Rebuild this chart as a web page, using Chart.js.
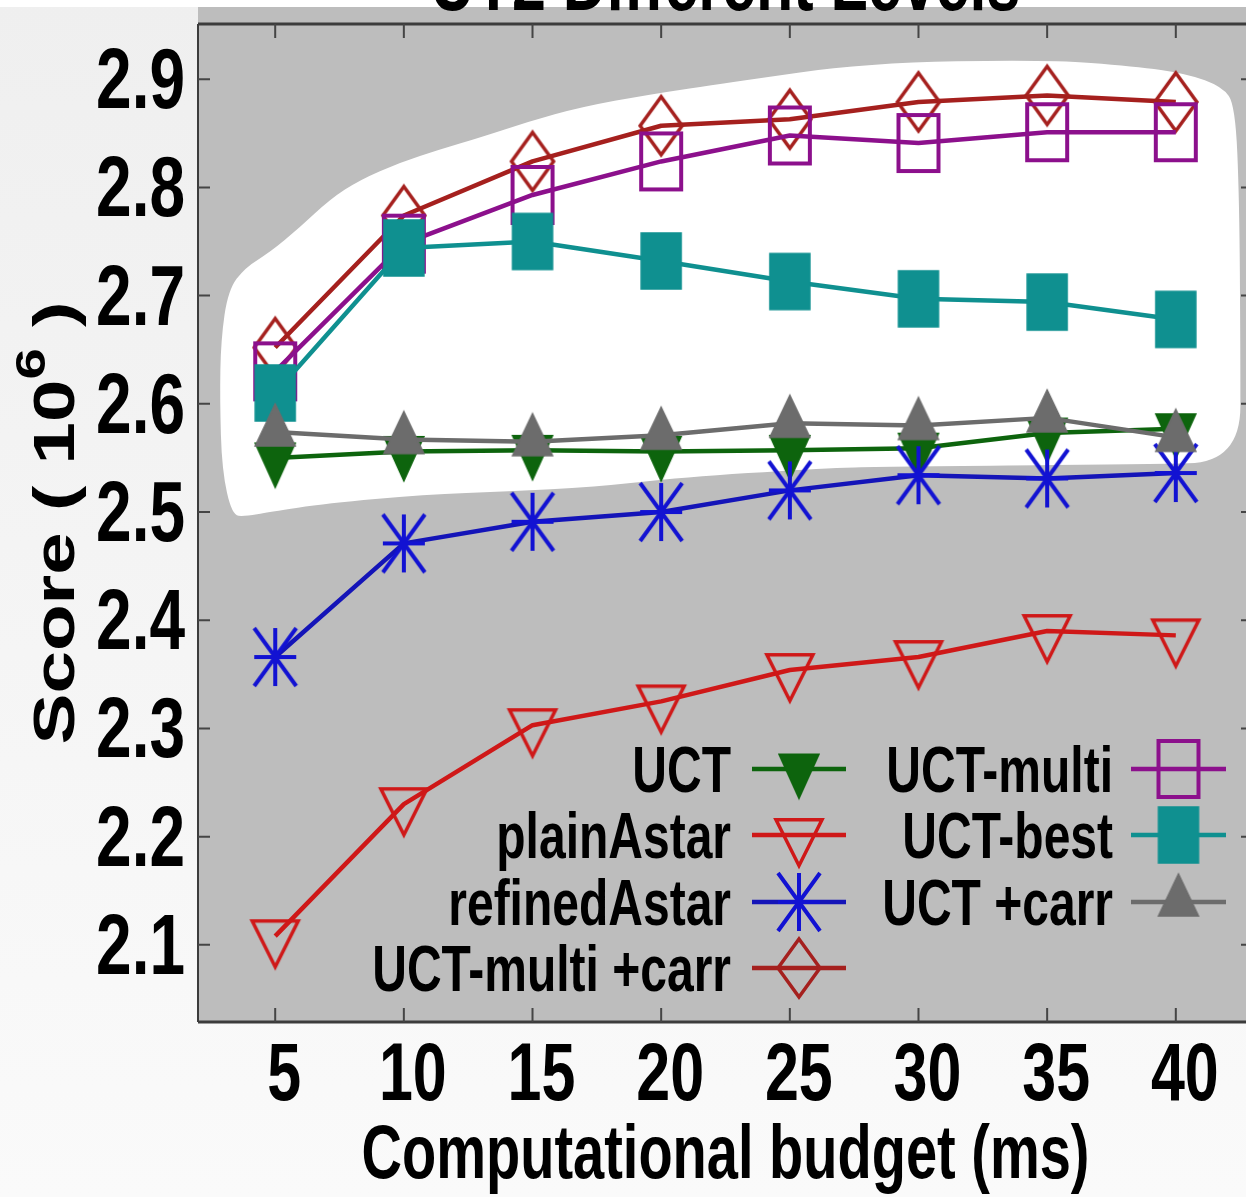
<!DOCTYPE html>
<html>
<head>
<meta charset="utf-8">
<title>Score vs computational budget</title>
<script src="https://cdn.jsdelivr.net/npm/chart.js@4.4.1/dist/chart.umd.min.js"></script>
<style>
  html, body { margin: 0; padding: 0; background: #f2f2f2; overflow: hidden; }
  #wrap { width: 1256px; height: 1197px; }
</style>
</head>
<body>
<div id="wrap"><canvas id="chartScore" width="1256" height="1197"></canvas></div>
<script>
// --- datos (score en millones) ---
const budgets = [5, 10, 15, 20, 25, 30, 35, 40];
const uct = [2.550, 2.556, 2.557, 2.556, 2.557, 2.559, 2.573, 2.577];
const plainAstar = [2.108, 2.230, 2.303, 2.325, 2.354, 2.366, 2.390, 2.386];
const refinedAstar = [2.366, 2.471, 2.491, 2.500, 2.520, 2.534, 2.531, 2.536];
const uctMultiCarr = [2.652, 2.774, 2.824, 2.857, 2.863, 2.879, 2.885, 2.879];
const uctMulti = [2.630, 2.748, 2.793, 2.824, 2.848, 2.841, 2.851, 2.851];
const uctBest = [2.610, 2.744, 2.750, 2.732, 2.713, 2.697, 2.694, 2.678];
const uctCarr = [2.574, 2.567, 2.565, 2.571, 2.582, 2.580, 2.587, 2.569];

const xTicks = [5, 10, 15, 20, 25, 30, 35, 40];
const yTicks = [2.1, 2.2, 2.3, 2.4, 2.5, 2.6, 2.7, 2.8, 2.9];
const xRange = [2, 43];
const yRange = [2.0287, 2.951];

const chartTitle = 'UT2 Different Levels';
const xTitle = 'Computational budget (ms)';
const yTitleParts = ['Score ( 10', '6', ' )'];

// contorno del resaltado blanco (en unidades de los ejes)
const blobX = [3.32, 2.93, 2.85, 2.89, 3.17, 3.83, 4.80, 5.96, 7.13, 8.29, 9.85, 11.40, 12.95, 14.89,
  16.84, 19.55, 22.66, 27.98, 35.01, 38.39, 40.45, 41.81, 42.31, 42.47, 42.51, 42.51, 38.47, 28.41,
  25.88, 20.87, 17.34, 14.08, 10.78, 7.01, 4.76, 3.83];
const blobY = [2.497, 2.539, 2.604, 2.659, 2.705, 2.726, 2.740, 2.763, 2.789, 2.807, 2.823, 2.835, 2.846, 2.861,
  2.874, 2.886, 2.897, 2.915, 2.918, 2.912, 2.905, 2.893, 2.876, 2.788, 2.650, 2.546, 2.544, 2.542,
  2.540, 2.532, 2.523, 2.519, 2.516, 2.508, 2.500, 2.496];

// --- estilos ---
const FONT = "'Liberation Sans', Arial, Helvetica, sans-serif";
const VS = 1.34; // la figura original esta estirada en vertical

function makeMarker(shape, color, w, h, lw, filled) {
    const pad = Math.ceil(lw) + 2;
    const cw = Math.ceil(w + 2 * pad);
    const ch = Math.ceil((shape.startsWith('tri') ? h * 4 / 3 : h) + 2 * pad);
    const c = document.createElement('canvas');
    c.width = cw;
    c.height = ch;
    const g = c.getContext('2d');
    g.translate(cw / 2, ch / 2);
    g.strokeStyle = color;
    g.fillStyle = color;
    g.lineWidth = lw;
    g.beginPath();
    if (shape === 'triDown') {
        g.moveTo(-w / 2, -h / 3); g.lineTo(w / 2, -h / 3); g.lineTo(0, 2 * h / 3); g.closePath();
    } else if (shape === 'triUp') {
        g.moveTo(0, -2 * h / 3); g.lineTo(w / 2, h / 3); g.lineTo(-w / 2, h / 3); g.closePath();
    } else if (shape === 'square') {
        g.rect(-w / 2, -h / 2, w, h);
    } else if (shape === 'diamond') {
        g.moveTo(0, -h / 2); g.lineTo(w / 2, 0); g.lineTo(0, h / 2); g.lineTo(-w / 2, 0); g.closePath();
    } else if (shape === 'star') {
        g.moveTo(0, -h / 2); g.lineTo(0, h / 2);
        g.moveTo(-w / 2, 0); g.lineTo(w / 2, 0);
        g.moveTo(-w / 2, -h / 2); g.lineTo(w / 2, h / 2);
        g.moveTo(w / 2, -h / 2); g.lineTo(-w / 2, h / 2);
    }
    if (filled) { g.fill(); g.lineWidth = 1.5; g.stroke(); } else { g.stroke(); }
    return c;
}

const seriesStyle = {
    'UCT': { color: '#0d640d', marker: makeMarker('triDown', '#0d640d', 40, 44, 1, true) },
    'plainAstar': { color: '#cf1818', marker: makeMarker('triDown', '#cf1818', 46, 46, 3.5, false) },
    'refinedAstar': { color: '#1414b8', marker: makeMarker('star', '#1212d2', 42, 58, 4, false) },
    'UCT-multi +carr': { color: '#a5201e', marker: makeMarker('diamond', '#a5201e', 42, 58, 3.5, false) },
    'UCT-multi': { color: '#8c108c', marker: makeMarker('square', '#8c108c', 40, 56, 4, false) },
    'UCT-best': { color: '#0f9090', marker: makeMarker('square', '#0f9090', 40, 56, 1, true) },
    'UCT +carr': { color: '#6c6c6c', marker: makeMarker('triUp', '#6c6c6c', 40, 42, 1, true) },
};

const seriesList = [
    ['UCT', uct],
    ['plainAstar', plainAstar],
    ['refinedAstar', refinedAstar],
    ['UCT-multi +carr', uctMultiCarr],
    ['UCT-multi', uctMulti],
    ['UCT-best', uctBest],
    ['UCT +carr', uctCarr],
];

// posiciones de la leyenda (estilo gnuplot, dos columnas)
const legendCols = [{ textRight: 731, x1: 752, x2: 846 }, { textRight: 1113, x1: 1131, x2: 1226 }];
const legendRows = [769, 835, 902, 968];
const legendSlots = [[0, 0], [0, 1], [0, 2], [0, 3], [1, 0], [1, 1], [1, 2]];

function drawStretched(ctx, text, x, y, size, align, vs) {
    ctx.save();
    ctx.font = 'bold ' + size + 'px ' + FONT;
    ctx.textAlign = align;
    ctx.textBaseline = 'alphabetic';
    ctx.fillStyle = '#000';
    ctx.translate(x, y);
    ctx.scale(1, vs);
    ctx.fillText(text, 0, 0);
    ctx.restore();
}

const paperPlugin = {
    id: 'paper',
    beforeDraw(chart) {
        const { ctx, chartArea: a, width, height } = chart;
        ctx.save();
        const g = ctx.createLinearGradient(0, 0, 0, height);
        g.addColorStop(0, '#efefef');
        g.addColorStop(1, '#fafafa');
        ctx.fillStyle = g;
        ctx.fillRect(0, 0, width, height);
        ctx.fillStyle = '#ffffff';
        ctx.fillRect(0, 0, width, 7);
        ctx.fillStyle = '#bdbdbd';
        ctx.fillRect(a.left, 7, width - a.left, a.bottom - 7);
        ctx.restore();
        // titulo casi cortado por el borde superior
        drawStretched(ctx, chartTitle, (a.left + a.right) / 2, 10, 61, 'center', VS);
    },
    beforeDatasetsDraw(chart) {
        const { ctx, scales: { x, y } } = chart;
        const pts = blobX.map((v, i) => [x.getPixelForValue(v), y.getPixelForValue(blobY[i])]);
        const n = pts.length;
        const mid = (p, q) => [(p[0] + q[0]) / 2, (p[1] + q[1]) / 2];
        ctx.save();
        ctx.beginPath();
        const m0 = mid(pts[n - 1], pts[0]);
        ctx.moveTo(m0[0], m0[1]);
        for (let i = 0; i < n; i++) {
            const m = mid(pts[i], pts[(i + 1) % n]);
            ctx.quadraticCurveTo(pts[i][0], pts[i][1], m[0], m[1]);
        }
        ctx.closePath();
        ctx.fillStyle = '#ffffff';
        ctx.fill();
        ctx.restore();
    },
};

const legendPlugin = {
    id: 'gnuLegend',
    afterDatasetsDraw(chart) {
        const ctx = chart.ctx;
        seriesList.forEach(([label], i) => {
            const [col, row] = legendSlots[i];
            const c = legendCols[col];
            const yy = legendRows[row];
            const st = seriesStyle[label];
            drawStretched(ctx, label, c.textRight, yy + 23, 48, 'right', VS);
            ctx.save();
            ctx.strokeStyle = st.color;
            ctx.lineWidth = 4.5;
            ctx.beginPath();
            ctx.moveTo(c.x1, yy);
            ctx.lineTo(c.x2, yy);
            ctx.stroke();
            const m = st.marker;
            ctx.drawImage(m, (c.x1 + c.x2) / 2 - m.width / 2, yy - m.height / 2);
            ctx.restore();
        });
    },
};

const axesPlugin = {
    id: 'gnuAxes',
    afterDraw(chart) {
        const { ctx, chartArea: a, scales: { x, y } } = chart;
        ctx.save();
        // marco
        ctx.strokeStyle = '#3c3c3c';
        ctx.lineWidth = 2;
        ctx.beginPath();
        ctx.moveTo(a.left, a.top);
        ctx.lineTo(a.left, a.bottom);
        ctx.stroke();
        ctx.lineWidth = 3;
        ctx.beginPath();
        ctx.moveTo(a.left, a.top);
        ctx.lineTo(a.right, a.top);
        ctx.moveTo(a.left, a.bottom);
        ctx.lineTo(a.right, a.bottom);
        ctx.moveTo(a.right, a.top);
        ctx.lineTo(a.right, a.bottom);
        ctx.stroke();
        // marcas hacia dentro
        ctx.lineWidth = 2;
        ctx.strokeStyle = '#454545';
        ctx.beginPath();
        xTicks.forEach(v => {
            const px = x.getPixelForValue(v);
            ctx.moveTo(px, a.bottom); ctx.lineTo(px, a.bottom - 14);
            ctx.moveTo(px, a.top); ctx.lineTo(px, a.top + 14);
        });
        yTicks.forEach(v => {
            const py = y.getPixelForValue(v);
            ctx.moveTo(a.left, py); ctx.lineTo(a.left + 12, py);
            ctx.moveTo(a.right, py); ctx.lineTo(a.right - 12, py);
        });
        ctx.stroke();
        ctx.restore();

        // etiquetas
        xTicks.forEach(v => {
            drawStretched(ctx, String(v), x.getPixelForValue(v) + 9, a.bottom + 78, 61, 'center', VS);
        });
        yTicks.forEach(v => {
            drawStretched(ctx, v.toFixed(1), a.left - 13, y.getPixelForValue(v) + 29, 64, 'right', VS);
        });
        drawStretched(ctx, xTitle, (a.left + a.right) / 2, 1178, 56, 'center', VS);

        // titulo eje y con exponente
        ctx.save();
        ctx.fillStyle = '#000';
        ctx.textBaseline = 'alphabetic';
        ctx.textAlign = 'left';
        const big = 'bold 57px ' + FONT;
        const small = 'bold 42px ' + FONT;
        ctx.font = big;
        const w0 = ctx.measureText(yTitleParts[0]).width;
        const w2 = ctx.measureText(yTitleParts[2]).width;
        ctx.font = small;
        const w1 = ctx.measureText(yTitleParts[1]).width;
        const total = w0 + w1 + w2;
        ctx.translate(74, (a.top + a.bottom) / 2);
        ctx.rotate(-Math.PI / 2);
        ctx.scale(VS, 1);
        let cx = -total / 2;
        ctx.font = big;
        ctx.fillText(yTitleParts[0], cx, 0);
        cx += w0;
        ctx.font = small;
        ctx.fillText(yTitleParts[1], cx, -29);
        cx += w1;
        ctx.font = big;
        ctx.fillText(yTitleParts[2], cx, 0);
        ctx.restore();
    },
};

const datasets = seriesList.map(([label, values], i) => ({
    label: label,
    data: budgets.map((b, k) => ({ x: b, y: values[k] })),
    borderColor: seriesStyle[label].color,
    backgroundColor: seriesStyle[label].color,
    borderWidth: 4.5,
    borderJoinStyle: 'round',
    pointStyle: seriesStyle[label].marker,
    pointRadius: 20,
    fill: false,
    tension: 0,
    order: seriesList.length - i,
}));

new Chart(document.getElementById('chartScore'), {
    type: 'line',
    data: { datasets: datasets },
    options: {
        responsive: false,
        animation: false,
        devicePixelRatio: 1,
        layout: { autoPadding: false, padding: { top: 24, right: 3, left: 0, bottom: 0 } },
        plugins: {
            legend: { display: false },
            tooltip: { enabled: false },
        },
        scales: {
            x: {
                type: 'linear',
                min: xRange[0],
                max: xRange[1],
                grid: { display: false, drawTicks: false },
                border: { display: false },
                ticks: { display: false },
                afterBuildTicks: (s) => { s.ticks = xTicks.map(v => ({ value: v })); },
                afterFit: (s) => { s.height = 175; },
            },
            y: {
                min: yRange[0],
                max: yRange[1],
                grid: { display: false, drawTicks: false },
                border: { display: false },
                ticks: { display: false },
                afterBuildTicks: (s) => { s.ticks = yTicks.map(v => ({ value: v })); },
                afterFit: (s) => { s.width = 198; },
            },
        },
    },
    plugins: [paperPlugin, legendPlugin, axesPlugin],
});
</script>
</body>
</html>
